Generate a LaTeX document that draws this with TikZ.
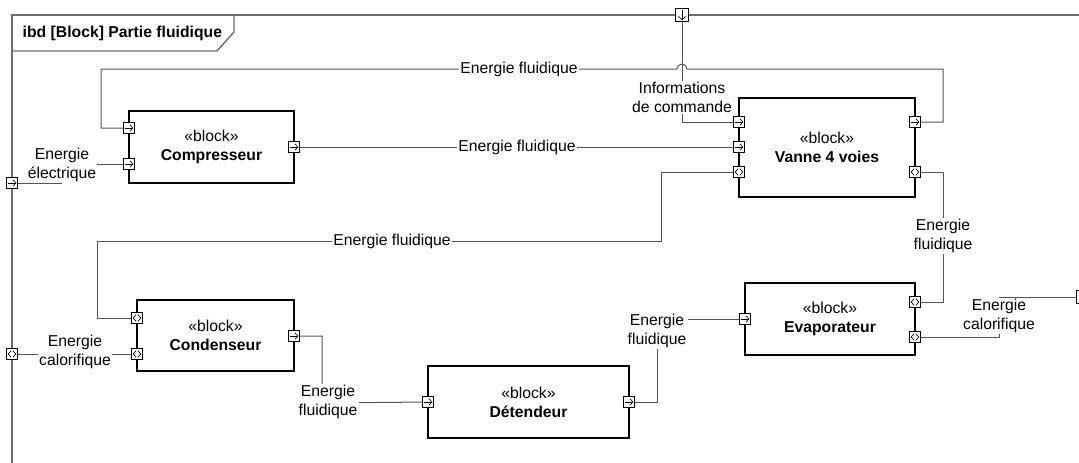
\documentclass[tikz,border=0pt]{standalone}
\usepackage{fontspec}
\setmainfont{Liberation Sans}
\usetikzlibrary{calc}
\definecolor{conn}{RGB}{85,85,85}
\definecolor{frm}{RGB}{110,110,110}
\tikzset{
  every node/.style={font=\fontsize{11.8pt}{14.25pt}\selectfont},
  block/.style={draw=black, line width=1.1pt, fill=white, align=center, inner sep=0pt},
  conline/.style={draw=conn, line width=0.75pt},
  frameline/.style={draw=frm, line width=1.1pt},
  lbl/.style={fill=white, inner sep=1pt, align=center, text=black},
  portbase/.style={draw=black, fill=white, line width=0.55pt, minimum size=8.25pt, inner sep=0pt},
  portR/.style={portbase, path picture={
    \draw[line width=0.5pt] ([xshift=1.2pt]path picture bounding box.west) -- ([xshift=-1.2pt]path picture bounding box.east);
    \draw[line width=0.5pt] ([xshift=-3.4pt,yshift=2.4pt]path picture bounding box.east) -- ([xshift=-1.2pt]path picture bounding box.east) -- ([xshift=-3.4pt,yshift=-2.4pt]path picture bounding box.east);
  }},
  portB/.style={portbase, path picture={
    \draw[line width=0.5pt] ([xshift=3.5pt,yshift=2.5pt]path picture bounding box.west) -- ([xshift=1.3pt]path picture bounding box.west) -- ([xshift=3.5pt,yshift=-2.5pt]path picture bounding box.west);
    \draw[line width=0.5pt] ([xshift=-3.5pt,yshift=2.5pt]path picture bounding box.east) -- ([xshift=-1.3pt]path picture bounding box.east) -- ([xshift=-3.5pt,yshift=-2.5pt]path picture bounding box.east);
  }},
  portD/.style={portbase, minimum size=9.75pt, path picture={
    \draw[line width=0.5pt] ([yshift=-1.3pt]path picture bounding box.north) -- ([yshift=1.3pt]path picture bounding box.south);
    \draw[line width=0.5pt] ([xshift=-2.6pt,yshift=3.8pt]path picture bounding box.south) -- ([yshift=1.3pt]path picture bounding box.south) -- ([xshift=2.6pt,yshift=3.8pt]path picture bounding box.south);
  }},
  portE/.style={portbase, minimum size=9.75pt},
}
\begin{document}
\begin{tikzpicture}[x=0.75pt,y=-0.75pt]
\useasboundingbox (0,0) rectangle (1079,462);
\clip (0,0) rectangle (1079,462);
\fill[white] (0,0) rectangle (1079,462);

% frame
\draw[frameline] (12,470) -- (12,15) -- (1090,15);
\draw[frameline] (234,15) -- (234,32) -- (217,51) -- (12,51);
\node[anchor=west, font=\fontsize{11.8pt}{14.25pt}\selectfont\bfseries] (title) at (18,33) {ibd [Block] Partie fluidique};

% blocks
\node[block, minimum width=123.75pt, minimum height=54pt] (comp) at (211.5,147) {«block»\\\textbf{Compresseur}};
\node[block, minimum width=132pt, minimum height=74.25pt] (vanne) at (827,147.5) {«block»\\\textbf{Vanne 4 voies}};
\node[block, minimum width=117.75pt, minimum height=53.25pt] (cond) at (215.5,335.5) {«block»\\\textbf{Condenseur}};
\node[block, minimum width=150.75pt, minimum height=54pt] (det) at (528.5,402) {«block»\\\textbf{Détendeur}};
\node[block, minimum width=127.5pt, minimum height=54pt] (evap) at (830,319) {«block»\\\textbf{Evaporateur}};

% ports
\node[portR] (pc1) at (129,128) {};
\node[portR] (pc2) at (129,164) {};
\node[portR] (pc3) at (294,147) {};
\node[portR] (pv1) at (739,122) {};
\node[portR] (pv2) at (739,147) {};
\node[portB] (pv3) at (739,172) {};
\node[portR] (pv4) at (915,122) {};
\node[portB] (pv5) at (915,172) {};
\node[portB] (pk1) at (137,318) {};
\node[portB] (pk2) at (137,354) {};
\node[portR] (pk3) at (294,336) {};
\node[portR] (pd1) at (428,402) {};
\node[portR] (pd2) at (629,402) {};
\node[portR] (pe1) at (745,319) {};
\node[portB] (pe2) at (915,302) {};
\node[portB] (pe3) at (915,337) {};
\node[portR] (fl1) at (12,183) {};
\node[portB] (fl2) at (12,354) {};
\node[portD] (ft) at (682,15) {};
\node[portE] (fr) at (1083,297) {};

% connectors
\draw[conline] (fl1) -- (61,183) -- (61,164) -- (pc2);
\draw[conline] (fl2) -- (pk2);
\draw[conline] (pc3) -- (pv2);
\draw[conline] (pv4) -- (943,122) -- (943,69) -- (687,69) arc[start angle=0,end angle=180,radius=3.75pt] -- (101,69) -- (101,128) -- (pc1);
\draw[conline] (ft) -- (682,122) -- (pv1);
\draw[conline] (pv3) -- (661,172) -- (661,241) -- (97,241) -- (97,318) -- (pk1);
\draw[conline] (pk3) -- (322,336) -- (322,403) -- (pd1);
\draw[conline] (pd2) -- (657,402) -- (657,319) -- (pe1);
\draw[conline] (pv5) -- (943,172) -- (943,302) -- (pe2);
\draw[conline] (pe3) -- (999,337) -- (999,297) -- (fr);

% labels
\node[lbl] (l1) at (62,165) {Energie\\électrique};
\node[lbl] (l2) at (75,352) {Energie\\calorifique};
\node[lbl] (l3) at (517,147) {Energie fluidique};
\node[lbl] (l4) at (519,69) {Energie fluidique};
\node[lbl] (l5) at (682,97.5) {Informations\\de commande};
\node[lbl] (l6) at (392,241) {Energie fluidique};
\node[lbl] (l7) at (328,402) {Energie\\fluidique};
\node[lbl] (l8) at (657,331) {Energie\\fluidique};
\node[lbl] (l9) at (943,236) {Energie\\fluidique};
\node[lbl] (l10) at (999,316) {Energie\\calorifique};
\end{tikzpicture}
\end{document}
